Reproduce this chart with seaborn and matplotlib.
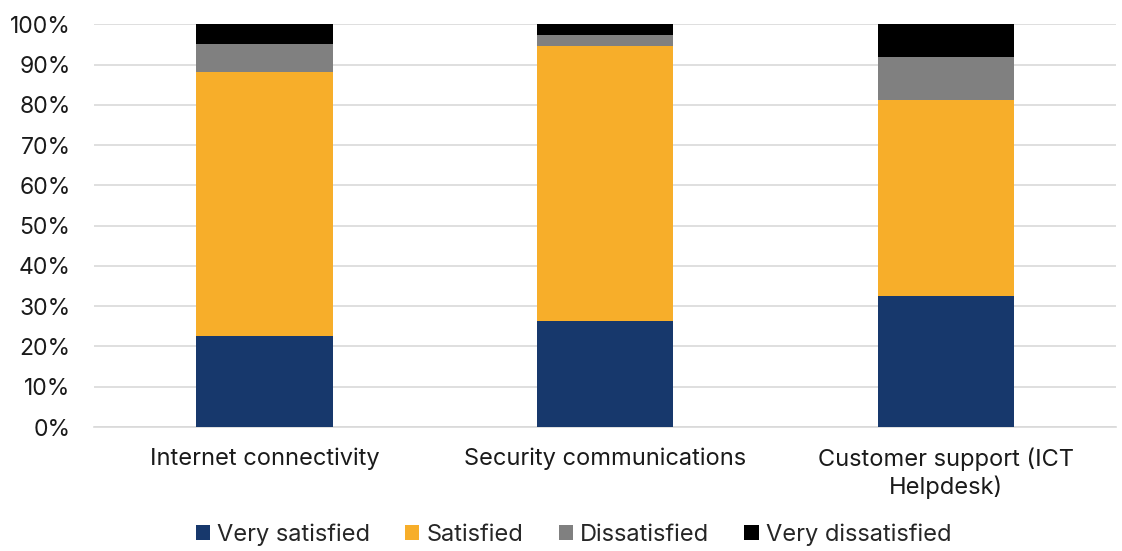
import matplotlib
matplotlib.use("Agg")
import matplotlib.pyplot as plt
import seaborn as sns
import pandas as pd
import numpy as np
from matplotlib.patches import Patch

categories = ["Internet connectivity", "Security communications", "Customer support (ICT\nHelpdesk)"]
very_satisfied = [22.6, 26.4, 32.5]
satisfied = [65.6, 68.3, 48.6]
dissatisfied = [6.8, 2.6, 10.8]
very_dissatisfied = [5.0, 2.7, 8.1]

series_names = ["Very satisfied", "Satisfied", "Dissatisfied", "Very dissatisfied"]
series_vals = [very_satisfied, satisfied, dissatisfied, very_dissatisfied]
colors = ["#17386C", "#F7AE2A", "#808080", "#000000"]

sns.set_theme(style="white")
plt.rcParams['font.family'] = ['Inter', 'DejaVu Sans']

fig, ax = plt.subplots(figsize=(11.22, 5.51), dpi=100)
fig.subplots_adjust(left=0.084, right=0.995, bottom=0.225, top=0.956)

bottom = np.zeros(len(categories))
for name, vals, col in zip(series_names, series_vals, colors):
    df = pd.DataFrame({"cat": categories, "val": vals})
    sns.barplot(data=df, x="cat", y="val", color=col, bottom=bottom, width=0.4,
                ax=ax, saturation=1, edgecolor="none", linewidth=0, zorder=3)
    bottom = bottom + np.array(vals)

ax.set_ylim(0, 100)
ax.set_xlim(-0.5, 2.5)
ax.set_yticks(np.arange(0, 101, 10))
ax.set_yticklabels([f"{v}%" for v in range(0, 101, 10)], fontsize=16.5, color="#1a1a1a")
ax.tick_params(axis="x", labelsize=17, colors="#1a1a1a", length=0, pad=15)
ax.tick_params(axis="y", length=0, pad=17)
ax.set_xlabel("")
ax.set_ylabel("")
ax.grid(axis="y", color="#d9d9d9", linewidth=1.2, zorder=0)
for s in ["top", "right", "left"]:
    ax.spines[s].set_visible(False)
ax.spines["bottom"].set_color("#d9d9d9")
ax.spines["bottom"].set_linewidth(1.2)

handles = [Patch(facecolor=c, edgecolor="none", label=n) for n, c in zip(series_names, colors)]
fig.legend(handles=handles, loc="lower center", ncol=4, frameon=False, fontsize=17,
           bbox_to_anchor=(0.511, -0.03), handlelength=0.6, handleheight=0.6,
           handletextpad=0.3, columnspacing=1.5)

fig.savefig("out.png", dpi=100)
